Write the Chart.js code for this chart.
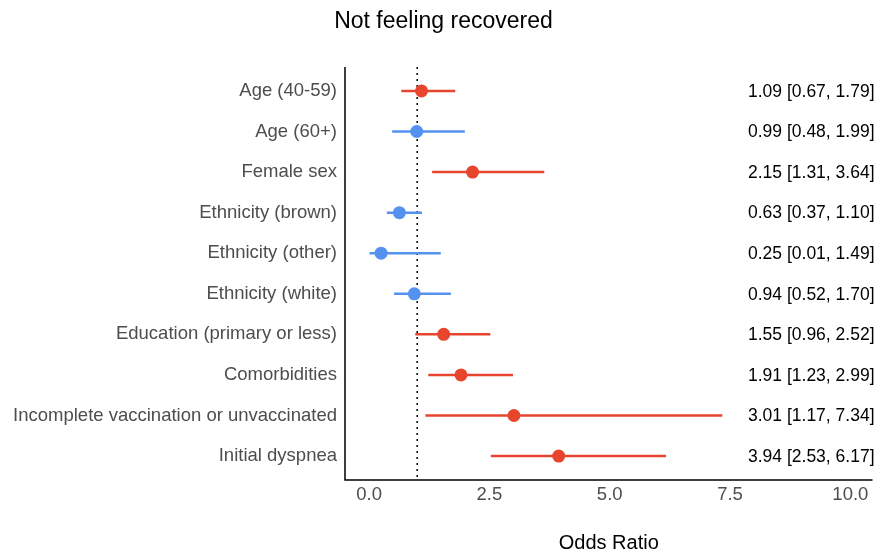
<!DOCTYPE html>
<html>
<head>
<meta charset="utf-8">
<script src="https://cdn.jsdelivr.net/npm/chart.js@4.4.1/dist/chart.umd.min.js"></script>
<style>
  html, body { margin: 0; padding: 0; background: #fff; }
  #wrap { width: 879px; height: 552px; position: relative; }
</style>
</head>
<body>
<div id="wrap"><canvas id="chart"></canvas></div>
<script>
// Forest plot: odds ratios with 95% CI
const labels = [
  'Age (40-59)', 'Age (60+)', 'Female sex', 'Ethnicity (brown)', 'Ethnicity (other)',
  'Ethnicity (white)', 'Education (primary or less)', 'Comorbidities',
  'Incomplete vaccination or unvaccinated', 'Initial dyspnea'
];
const oddsRatio = [1.09, 0.99, 2.15, 0.63, 0.25, 0.94, 1.55, 1.91, 3.01, 3.94];
const ciLow = [0.67, 0.48, 1.31, 0.37, 0.01, 0.52, 0.96, 1.23, 1.17, 2.53];
const ciHigh = [1.79, 1.99, 3.64, 1.10, 1.49, 1.70, 2.52, 2.99, 7.34, 6.17];
const xTicks = [0, 2.5, 5, 7.5, 10];

const RED = '#e8452f';
const BLUE = '#5591ef';
const FONT = '"Liberation Sans", Arial, sans-serif';

// red / blue grouping as in the picture
const significant = [true, false, true, false, false, false, true, true, true, true];
const colors = significant.map(s => s ? RED : BLUE);

const points = oddsRatio.map((v, i) => ({ x: v, y: i }));

// Draws CI whiskers, the reference line at OR = 1, titles and the right-hand estimate text
const forestPlugin = {
  id: 'forest',
  beforeDatasetsDraw(chart) {
    const { ctx, chartArea, scales: { x, y } } = chart;
    ctx.save();
    // dotted reference line
    ctx.strokeStyle = '#000';
    ctx.lineWidth = 1.5;
    ctx.setLineDash([2, 4]);
    const x1 = x.getPixelForValue(1);
    ctx.beginPath();
    ctx.moveTo(x1, chartArea.top);
    ctx.lineTo(x1, chartArea.bottom);
    ctx.stroke();
    ctx.setLineDash([]);
    // whiskers
    ctx.lineWidth = 2.5;
    labels.forEach((_, i) => {
      const py = y.getPixelForValue(i);
      ctx.strokeStyle = colors[i];
      ctx.beginPath();
      ctx.moveTo(x.getPixelForValue(ciLow[i]), py);
      ctx.lineTo(x.getPixelForValue(ciHigh[i]), py);
      ctx.stroke();
    });
    ctx.restore();
  },
  afterDatasetsDraw(chart) {
    const { ctx, chartArea, scales: { y } } = chart;
    ctx.save();
    ctx.fillStyle = '#000';
    ctx.textBaseline = 'middle';
    // estimates on the right
    ctx.font = '17.5px ' + FONT;
    ctx.textAlign = 'right';
    labels.forEach((_, i) => {
      const txt = oddsRatio[i].toFixed(2) + ' [' + ciLow[i].toFixed(2) + ', ' + ciHigh[i].toFixed(2) + ']';
      ctx.fillText(txt, chartArea.right + 2, y.getPixelForValue(i) + 1);
    });
    // chart title
    ctx.textAlign = 'center';
    ctx.font = '23px ' + FONT;
    ctx.fillText('Not feeling recovered', 443.5, 22);
    // axis title
    ctx.font = '20px ' + FONT;
    ctx.fillText('Odds Ratio', (chartArea.left + chartArea.right) / 2, 543);
    // axis lines
    ctx.strokeStyle = '#000';
    ctx.lineWidth = 1.5;
    ctx.beginPath();
    ctx.moveTo(chartArea.left, chartArea.top);
    ctx.lineTo(chartArea.left, chartArea.bottom);
    ctx.lineTo(chartArea.right, chartArea.bottom);
    ctx.stroke();
    ctx.restore();
  }
};

new Chart(document.getElementById('chart'), {
  type: 'scatter',
  data: {
    datasets: [{
      data: points,
      backgroundColor: colors,
      borderColor: colors,
      pointRadius: 6.5,
      pointHoverRadius: 6.5,
      borderWidth: 0
    }]
  },
  options: {
    responsive: true,
    maintainAspectRatio: false,
    animation: false,
    layout: { padding: { top: 67, right: 4, bottom: 0, left: 0 } },
    plugins: {
      legend: { display: false },
      tooltip: { enabled: false },
      title: { display: false }
    },
    scales: {
      x: {
        type: 'linear',
        min: -0.5,
        max: 10.46,
        afterBuildTicks: axis => { axis.ticks = xTicks.map(v => ({ value: v })); },
        afterFit: axis => { axis.height = 72; },
        grid: { display: false, drawTicks: false },
        border: { display: false },
        ticks: {
          color: '#4d4d4d',
          padding: 4,
          font: { family: FONT, size: 18.5 },
          callback: v => v.toFixed(1)
        }
      },
      y: {
        type: 'linear',
        reverse: true,
        min: -0.59,
        max: 9.59,
        afterBuildTicks: axis => { axis.ticks = labels.map((_, i) => ({ value: i })); },
        afterFit: axis => { axis.width = 345; },
        grid: { display: false, drawTicks: false },
        border: { display: false },
        ticks: {
          color: '#4d4d4d',
          padding: 8,
          font: { family: FONT, size: 18.5 },
          callback: v => labels[v]
        }
      }
    }
  },
  plugins: [forestPlugin]
});
</script>
</body>
</html>
